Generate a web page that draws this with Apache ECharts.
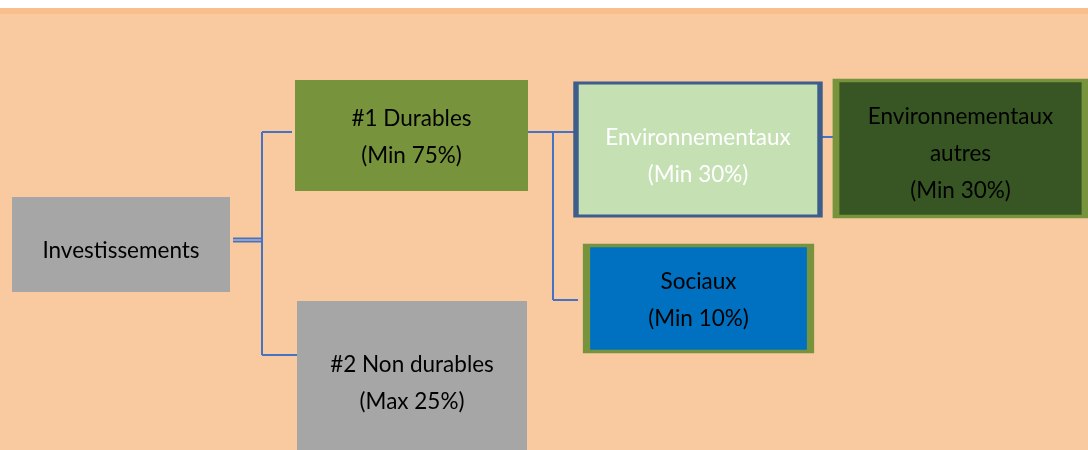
<!DOCTYPE html>
<html>
<head>
<meta charset="utf-8">
<script src="https://cdn.jsdelivr.net/npm/echarts@6/dist/echarts.min.js"></script>
<style>
html,body{margin:0;padding:0;background:#fff;}
#main{width:1088px;height:450px;}
</style>
</head>
<body>
<div id="main"></div>
<script>
// ---- data ----
const categories = ['Investissements', '#1 Durables', '#2 Non durables', 'Environnementaux', 'Environnementaux autres', 'Sociaux'];
const titles = ['Investissements', '#1 Durables', '#2 Non durables', 'Environnementaux', 'Environnementaux\nautres', 'Sociaux'];
const shares = ['', 'Min 75%', 'Max 25%', 'Min 30%', 'Min 30%', 'Min 10%'];
const parents = [null, 0, 0, 1, 3, 1];

// ---- layout & styles (diagram geometry, px in a 1088x450 frame) ----
const boxLayout = [
  { cx: 121,   cy: 244.5, w: 218, h: 95,  fill: '#A6A6A6', border: null,      bw: 0, text: '#000000', dy: 6 },
  { cx: 411.5, cy: 135.5, w: 233, h: 111, fill: '#77933C', border: null,      bw: 0, text: '#000000', dy: 2 },
  { cx: 412,   cy: 382,   w: 230, h: 162, fill: '#A6A6A6', border: null,      bw: 0, text: '#000000', dy: 1 },
  { cx: 698,   cy: 149.5, w: 244, h: 133, fill: '#C5E0B3', border: '#3D5D8B', bw: 4, text: '#FFFFFF', dy: 7 },
  { cx: 960.5, cy: 148.5, w: 249, h: 136, fill: '#375623', border: '#77933C', bw: 5, text: '#000000', dy: 5 },
  { cx: 698.5, cy: 298.5, w: 224, h: 106, fill: '#0070C0', border: '#77933C', bw: 5, text: '#000000', dy: 2 }
];
// connector for each child: where the branch leaves the parent, trunk x, and y where it meets the child
const linkLayout = {
  1: { fromX: 262, toX: 292, trunkX: 262, y: 132 },
  2: { fromX: 262, toX: 298, trunkX: 262, y: 355 },
  3: { fromX: 528, toX: 574, trunkX: 553, y: 132 },
  5: { fromX: 553, toX: 578, trunkX: 553, y: 300 },
  4: { fromX: 822, toX: 834, trunkX: 822, y: 137 }
};

const chart = echarts.init(document.getElementById('main'), null, { renderer: 'canvas' });

const nodes = categories.map((name, i) => {
  const b = boxLayout[i];
  const txt = shares[i] ? titles[i] + '\n(' + shares[i] + ')' : titles[i];
  return {
    name: name,
    value: [b.cx, b.cy],
    symbol: 'rect',
    symbolSize: [b.w, b.h],
    itemStyle: {
      color: b.fill,
      borderColor: b.border || b.fill,
      borderWidth: b.bw
    },
    label: {
      show: true,
      position: 'inside',
      formatter: txt,
      color: b.text,
      offset: [0, b.dy]
    }
  };
});

// connector polylines
const connectorData = [];
parents.forEach((p, i) => {
  if (p === null) return;
  const l = linkLayout[i];
  connectorData.push({ coords: [[l.trunkX, l.y], [l.toX, l.y]] });
});
const trunks = {};
parents.forEach((p, i) => {
  if (p === null) return;
  const l = linkLayout[i];
  if (!trunks[p]) trunks[p] = { x: l.trunkX, fromX: l.fromX, ys: [] };
  trunks[p].ys.push(l.y);
});
Object.keys(trunks).forEach(p => {
  const t = trunks[p];
  const y0 = Math.min.apply(null, t.ys), y1 = Math.max.apply(null, t.ys);
  if (y1 > y0) connectorData.push({ coords: [[t.x, y0], [t.x, y1]] });
  if (t.fromX < t.x) connectorData.push({ coords: [[t.fromX, y0], [t.x, y0]] });
});
// double stub out of the root box
const rootB = boxLayout[0];
const rootRight = rootB.cx + rootB.w / 2 + 3;
connectorData.push({ coords: [[rootRight, 238.5], [trunks[0].x, 238.5]] });
connectorData.push({ coords: [[rootRight, 241.5], [trunks[0].x, 241.5]] });

chart.setOption({
  backgroundColor: '#F9C9A0',
  animation: false,
  graphic: [
    { type: 'rect', shape: { x: 0, y: 0, width: 1088, height: 8 }, style: { fill: '#FFFFFF' }, silent: true },
    { type: 'rect', shape: { x: 0, y: 8, width: 1088, height: 6 }, style: { fill: '#F9BF8D' }, silent: true }
  ],
  grid: { left: 0, right: 0, top: 0, bottom: 0 },
  xAxis: { type: 'value', min: 0, max: 1088, show: false },
  yAxis: { type: 'value', min: 0, max: 450, inverse: true, show: false },
  series: [
    {
      type: 'lines',
      coordinateSystem: 'cartesian2d',
      polyline: true,
      silent: true,
      z: 1,
      lineStyle: { color: '#4472C4', width: 2, opacity: 1 },
      data: connectorData
    },
    {
      type: 'graph',
      coordinateSystem: 'cartesian2d',
      layout: 'none',
      silent: true,
      z: 2,
      label: {
        show: true,
        fontFamily: 'Lato',
        fontSize: 22.5,
        lineHeight: 37
      },
      data: nodes,
      links: []
    }
  ]
});
</script>
</body>
</html>
